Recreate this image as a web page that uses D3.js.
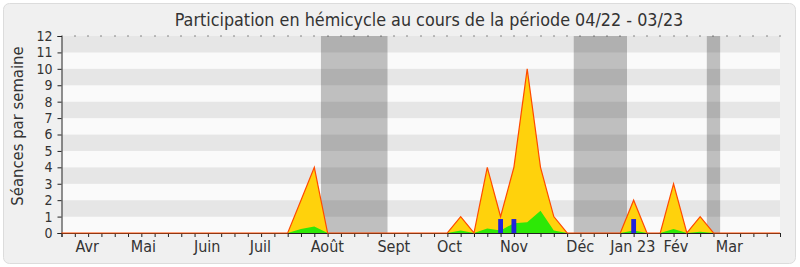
<!DOCTYPE html>
<html>
<head>
<meta charset="utf-8">
<script src="https://cdn.jsdelivr.net/npm/d3@7"></script>
<style>
  body { margin: 0; background: #fff; }
  text { font-family: "DejaVu Sans Condensed", "DejaVu Sans", sans-serif; fill: #333; }
</style>
</head>
<body>
<svg id="chart" width="800" height="267"></svg>
<script>
// one value per week, from the first week of April 2022
var weeks = d3.range(0, 55);
var presences = [0,0,0,0,0,0,0,0,0,0, 0,0,0,0,0,0,0,0,2,4, 0,0,0,0,0,0,0,0,0,0, 1,0,4,1,4,10,4,1,0,0, 0,0,0,2,0,0,3,0,1,0, 0,0,0,0,0];
var interventions = [0,0,0,0,0,0,0,0,0,0, 0,0,0,0,0,0,0,0,0.25,0.4, 0,0,0,0,0,0,0,0,0,0, 0.15,0,0.28,0.15,0.6,0.65,1.35,0.15,0,0, 0,0,0,0.15,0,0,0.25,0,0.07,0, 0,0,0,0,0];
var questions = [0,0,0,0,0,0,0,0,0,0, 0,0,0,0,0,0,0,0,0,0, 0,0,0,0,0,0,0,0,0,0, 0,0,0,0.85,0.85,0,0,0,0,0, 0,0,0,0.85,0,0,0,0,0,0, 0,0,0,0,0];
// parliamentary holidays, in weeks
var vacances = [[19.5, 24.5], [38.5, 42.5], [48.5, 49.5]];
var months = ["Avr", "Mai", "Juin", "Juil", "Août", "Sept", "Oct", "Nov", "Déc", "Jan 23", "Fév", "Mar"];
var monthPos = [1.93, 6.16, 10.95, 14.95, 19.98, 24.98, 29.15, 34.01, 38.99, 42.94, 46.18, 50.19];
var yTicks = d3.range(0, 13);

var svg = d3.select("#chart");

svg.append("rect")
  .attr("x", 3.5).attr("y", 3.5)
  .attr("width", 792).attr("height", 260)
  .attr("rx", 6)
  .attr("fill", "#f0f0f0")
  .attr("stroke", "#dcdcdc");

var x = d3.scaleLinear().domain([0, 54]).range([61.5, 780]);
var y = d3.scaleLinear().domain([0, 12]).range([233, 36]);

// striped background
svg.selectAll("rect.band")
  .data(d3.range(0, 12))
  .enter().append("rect")
    .attr("x", x(0))
    .attr("y", function (d) { return y(d + 1); })
    .attr("width", x(54) - x(0))
    .attr("height", function (d) { return y(d) - y(d + 1); })
    .attr("fill", function (d) { return d % 2 ? "#e6e6e6" : "#fafafa"; });

svg.selectAll("rect.vac")
  .data(vacances)
  .enter().append("rect")
    .attr("x", function (d) { return x(d[0]); })
    .attr("y", y(12))
    .attr("width", function (d) { return x(d[1]) - x(d[0]); })
    .attr("height", y(0) - y(12))
    .attr("fill", "rgba(14,14,14,0.25)");

var area = function (vals) {
  return d3.area()
    .x(function (d) { return x(d); })
    .y0(y(0))
    .y1(function (d) { return y(vals[d]); })(weeks);
};

svg.append("path")
  .attr("d", area(presences))
  .attr("fill", "#ffd20c");

svg.append("path")
  .attr("d", area(interventions))
  .attr("fill", "#2de806");

svg.selectAll("rect.q")
  .data(weeks.filter(function (d) { return questions[d] > 0; }))
  .enter().append("rect")
    .attr("x", function (d) { return x(d) - 2.4; })
    .attr("y", function (d) { return y(questions[d]); })
    .attr("width", 4.8)
    .attr("height", function (d) { return y(0) - y(questions[d]); })
    .attr("fill", "#2222dd");

// axes
var gx = svg.append("g")
  .attr("transform", "translate(0," + y(0) + ")")
  .call(d3.axisBottom(x).tickValues(weeks).tickSize(4).tickFormat(""));
gx.select(".domain").attr("stroke", "#222");
gx.selectAll(".tick line").attr("stroke", "#222");

var gy = svg.append("g")
  .attr("transform", "translate(" + x(0) + ",0)")
  .call(d3.axisLeft(y).tickValues(yTicks).tickSize(4).tickPadding(5).tickFormat(d3.format("d")));
gy.select(".domain").attr("stroke", "#222");
gy.selectAll(".tick line").attr("stroke", "#222");
gy.selectAll(".tick text").style("font-size", "14px").attr("fill", "#333");

svg.append("path")
  .attr("d", d3.line().x(function (d) { return x(d); }).y(function (d) { return y(presences[d]); })(weeks))
  .attr("fill", "none")
  .attr("stroke", "#ff4a00")
  .attr("stroke-width", 1.2);

// dots on top edge
svg.selectAll("rect.dot")
  .data(weeks)
  .enter().append("rect")
    .attr("x", function (d) { return Math.round(x(d)) - 0.5; })
    .attr("y", y(12) - 0.5)
    .attr("width", 1).attr("height", 1)
    .attr("fill", "#222");

svg.selectAll("text.month")
  .data(months)
  .enter().append("text")
    .attr("x", function (d, i) { return x(monthPos[i]); })
    .attr("y", 252)
    .attr("text-anchor", "middle")
    .style("font-size", "16px")
    .text(function (d) { return d; });

svg.append("text")
  .attr("transform", "translate(23,126) rotate(-90)")
  .attr("text-anchor", "middle")
  .style("font-size", "16.5px")
  .text("Séances par semaine");

svg.append("text")
  .attr("x", 429)
  .attr("y", 26)
  .attr("text-anchor", "middle")
  .style("font-size", "17.8px")
  .text("Participation en hémicycle au cours de la période 04/22 - 03/23");
</script>
</body>
</html>
